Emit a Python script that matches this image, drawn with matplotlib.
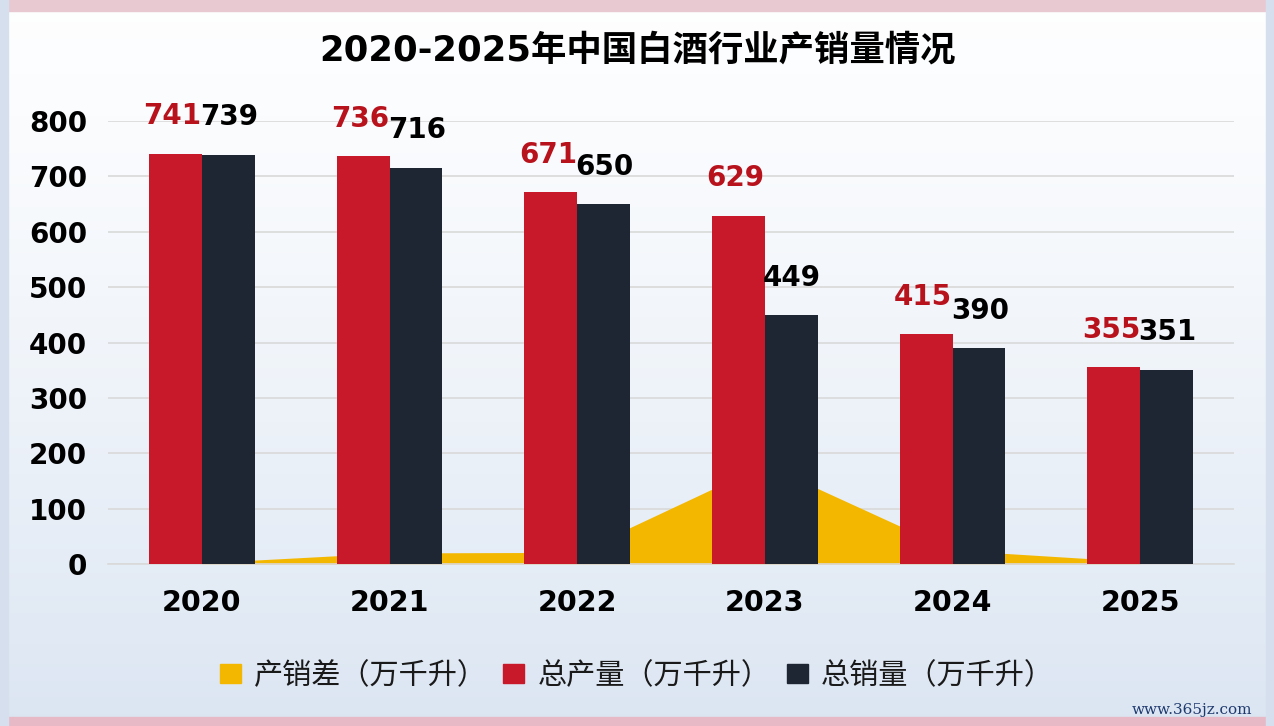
import matplotlib
matplotlib.use("Agg")
import matplotlib.pyplot as plt
import numpy as np
from matplotlib.patches import Patch

years = ["2020", "2021", "2022", "2023", "2024", "2025"]
production = [741, 736, 671, 629, 415, 355]
sales = [739, 716, 650, 449, 390, 351]
gap = [2, 20, 21, 180, 25, 4]
y_ticks = [0, 100, 200, 300, 400, 500, 600, 700, 800]

title = "2020-2025年中国白酒行业产销量情况"
legend_labels = ["产销差（万千升）", "总产量（万千升）", "总销量（万千升）"]

RED = "#C8192A"
DARK = "#1F2633"
GOLD = "#F4B700"
NUM_FONT = ["DejaVu Sans", "Noto Sans CJK SC"]
CJK_FONT = ["Noto Sans CJK SC", "DejaVu Sans"]
plt.rcParams["font.family"] = NUM_FONT

fig = plt.figure(figsize=(12.74, 7.26), dpi=100)

# background gradient
bg = fig.add_axes([0, 0, 1, 1], zorder=-10)
grad = np.linspace(0, 1, 256).reshape(-1, 1)
top = np.array([0.995, 0.997, 1.0])
bot = np.array([0.86, 0.90, 0.95])
img = top[None, None, :] * (1 - grad[:, :, None] ** 1.3) + bot[None, None, :] * (grad[:, :, None] ** 1.3)
bg.imshow(img, aspect="auto", extent=[0, 1, 0, 1], origin="upper")
bg.axhspan(0.985, 1.0, color="#E8C9D2")
bg.axhspan(0.0, 0.012, color="#E7B9C6")
bg.axvspan(0.0, 0.006, color="#D5DFEE")
bg.axvspan(0.994, 1.0, color="#D5DFEE")
bg.set_xlim(0, 1)
bg.set_ylim(0, 1)
bg.axis("off")

ax = fig.add_axes([108 / 1274, (726 - 564) / 726, (1234 - 108) / 1274, (564 - 121) / 726])
ax.set_facecolor("none")
x = np.arange(len(years))
w = 0.282

ax.fill_between(x, gap, 0, color=GOLD, lw=0, zorder=1)
ax.bar(x - w / 2, production, width=w, color=RED, zorder=3)
ax.bar(x + w / 2, sales, width=w, color=DARK, zorder=3)

for xi, p, s in zip(x, production, sales):
    ax.annotate(str(p), (xi - w / 2 - 0.015, p), xytext=(0, 27), textcoords="offset points",
                ha="center", va="center", fontsize=20, fontweight="bold", color="#B8121C",
                zorder=5, annotation_clip=False)
    ax.annotate(str(s), (xi + w / 2 + 0.005, s), xytext=(0, 27), textcoords="offset points",
                ha="center", va="center", fontsize=20, fontweight="bold", color="#000000",
                zorder=5, annotation_clip=False)

ax.set_xlim(-0.5, len(years) - 0.5)
ax.set_ylim(0, 800)
ax.set_yticks(y_ticks)
ax.set_yticklabels([str(t) for t in y_ticks], fontsize=20, fontweight="bold")
ax.set_xticks(x)
ax.set_xticklabels(years, fontsize=20.5, fontweight="bold")
ax.tick_params(axis="both", length=0)
ax.tick_params(axis="y", pad=15)
ax.tick_params(axis="x", pad=18)
ax.yaxis.grid(True, color="#D9D9D9", lw=1.2, zorder=0)
ax.set_axisbelow(True)
for sp in ["top", "right", "left"]:
    ax.spines[sp].set_visible(False)
ax.spines["bottom"].set_color("#D9D9D9")
ax.spines["bottom"].set_linewidth(1.2)

fig.text(0.5, 1 - 51 / 726, title, ha="center", va="center", fontsize=25.5, fontweight="bold",
         color="#000000", family=NUM_FONT)

handles = [Patch(color=GOLD), Patch(color=RED), Patch(color=DARK)]
leg = fig.legend(handles, legend_labels, loc="center", bbox_to_anchor=(0.5, 1 - 676 / 726),
                 ncol=3, frameon=False, handlelength=0.72, handleheight=0.62,
                 handletextpad=0.45, columnspacing=0.55, labelcolor="#1A1A1A",
                 prop={"family": CJK_FONT, "size": 21})

fig.text(1 - 22 / 1274, 1 - 710 / 726, "www.365jz.com", ha="right", va="center",
         fontsize=11, color="#1F3A6E", family=["DejaVu Serif"])

fig.savefig("out.png", dpi=100)
